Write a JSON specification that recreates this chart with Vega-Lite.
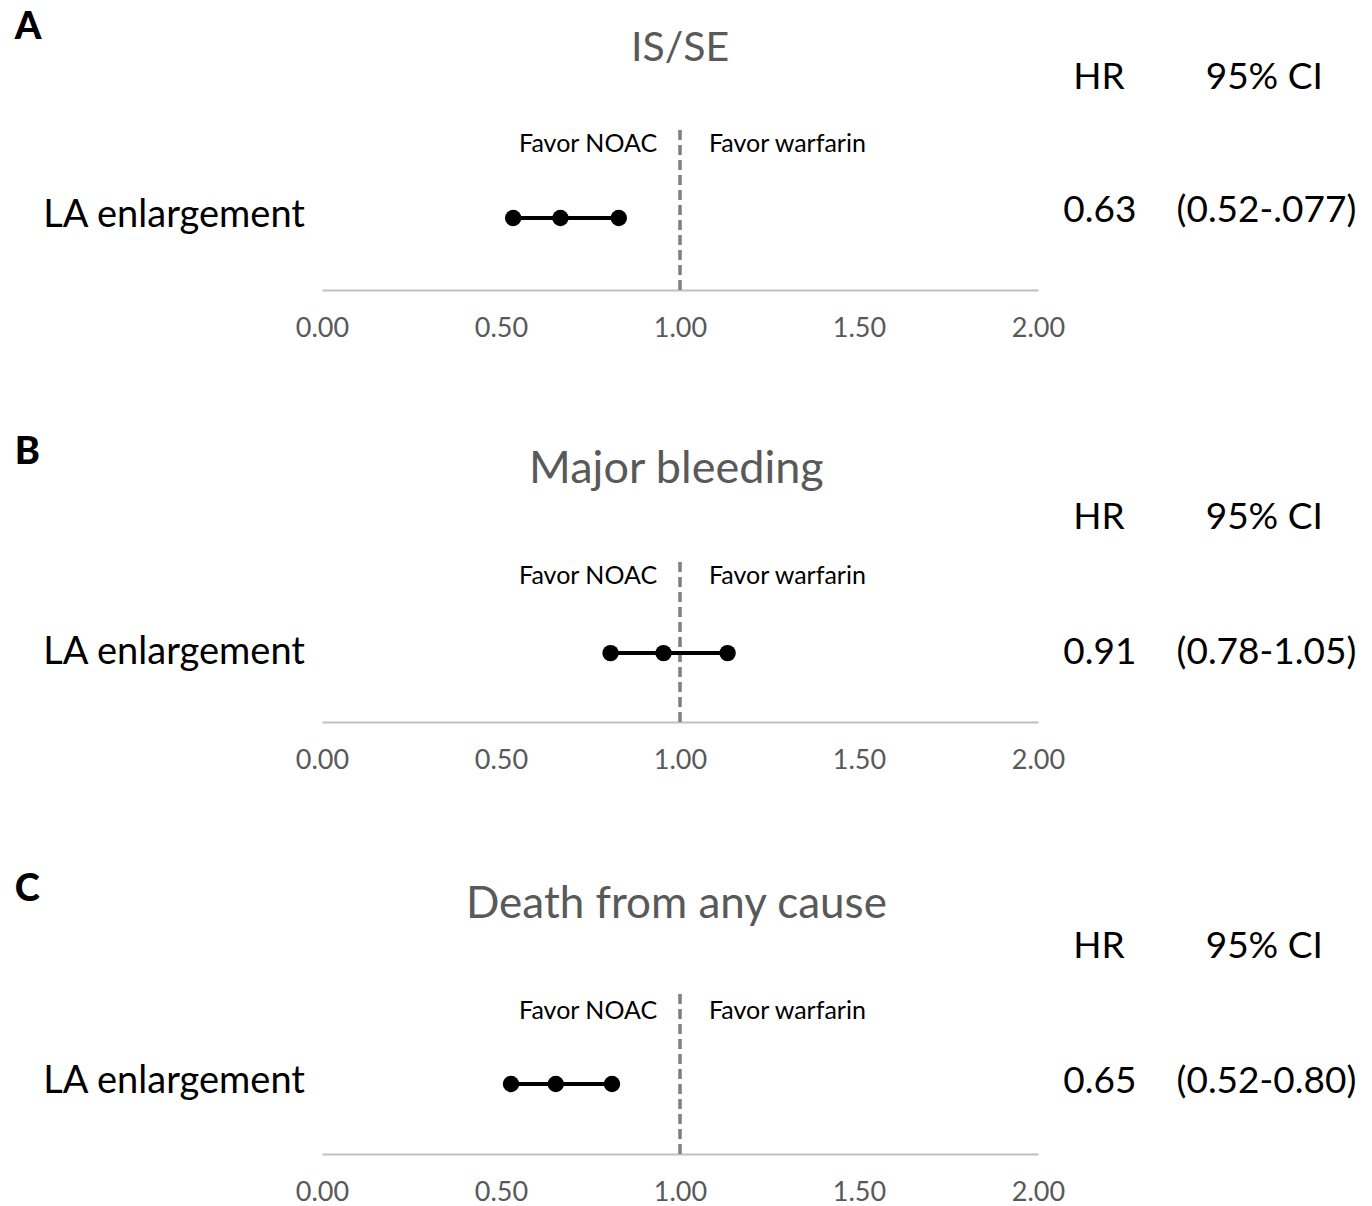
{
  "$schema": "https://vega.github.io/schema/vega-lite/v6.json",
  "padding": {"left": 14, "top": 8, "right": 0, "bottom": 0},
  "background": "white",
  "config": {
    "font": "Lato",
    "view": {"stroke": null},
    "axis": {"grid": false, "ticks": false, "tickSize": 0, "labelFont": "Lato", "labelFontSize": 27, "labelColor": "#595959", "domainColor": "#bfbfbf", "domainWidth": 2, "labelPadding": 25, "labelFlush": false},
    "axisY": {"disable": true},
    "text": {"font": "Lato"}
  },
  "datasets": {
    "rows": [
      {"panel": "A", "outcome": "IS/SE", "group": "LA enlargement", "lower": 0.534, "point": 0.666, "upper": 0.829, "hr": "0.63", "ci": "(0.52-.077)"},
      {"panel": "B", "outcome": "Major bleeding", "group": "LA enlargement", "lower": 0.806, "point": 0.954, "upper": 1.133, "hr": "0.91", "ci": "(0.78-1.05)"},
      {"panel": "C", "outcome": "Death from any cause", "group": "LA enlargement", "lower": 0.528, "point": 0.653, "upper": 0.81, "hr": "0.65", "ci": "(0.52-0.80)"}
    ]
  },
  "data": {"name": "rows"},
  "spacing": 152,
  "bounds": "flush",
  "vconcat": [
    {
      "width": 716, "height": 280,
      "transform": [{"filter": "datum.panel === 'A'"}],
      "layer": [
        {"mark": {"type": "rule", "color": "#7f7f7f", "strokeWidth": 3.5, "strokeDash": [10, 5]},
         "encoding": {"x": {"datum": 1, "type": "quantitative", "scale": {"domain": [0, 2], "nice": false}, "axis": {"format": ".2f", "values": [0, 0.5, 1, 1.5, 2], "title": null}},
                      "y": {"datum": 0, "type": "quantitative", "scale": {"domain": [0, 10]}}, "y2": {"datum": 5.79}}},
        {"mark": {"type": "rule", "color": "black", "strokeWidth": 4},
         "encoding": {"x": {"field": "lower", "type": "quantitative", "scale": {"domain": [0, 2], "nice": false}, "axis": {"format": ".2f", "values": [0, 0.5, 1, 1.5, 2], "title": null}},
                      "x2": {"field": "upper"}, "y": {"datum": 2.57, "type": "quantitative", "scale": {"domain": [0, 10]}}}},
        {"transform": [{"fold": ["lower", "point", "upper"], "as": ["k", "v"]}],
         "mark": {"type": "circle", "color": "black", "opacity": 1, "size": 270},
         "encoding": {"x": {"field": "v", "type": "quantitative", "scale": {"domain": [0, 2], "nice": false}, "axis": {"format": ".2f", "values": [0, 0.5, 1, 1.5, 2], "title": null}},
                      "y": {"datum": 2.57, "type": "quantitative", "scale": {"domain": [0, 10]}}}},
        {"mark": {"type": "text", "fontSize": 38, "align": "center", "baseline": "middle", "color": "black"},
         "encoding": {"x": {"datum": -0.413, "type": "quantitative"}, "y": {"datum": 2.66, "type": "quantitative"}, "text": {"field": "group"}}},
        {"mark": {"type": "text", "fontSize": 37, "align": "center", "baseline": "middle", "color": "black"},
         "encoding": {"x": {"datum": 2.173, "type": "quantitative"}, "y": {"datum": 2.82, "type": "quantitative"}, "text": {"field": "hr"}}},
        {"mark": {"type": "text", "fontSize": 37, "align": "center", "baseline": "middle", "color": "black"},
         "encoding": {"x": {"datum": 2.638, "type": "quantitative"}, "y": {"datum": 2.82, "type": "quantitative"}, "text": {"field": "ci"}}},
        {"mark": {"type": "text", "fontSize": 37, "align": "center", "baseline": "middle", "color": "black"},
         "encoding": {"x": {"datum": 2.17, "type": "quantitative"}, "y": {"datum": 7.58, "type": "quantitative"}, "text": {"value": "HR"}}},
        {"mark": {"type": "text", "fontSize": 37, "align": "center", "baseline": "middle", "color": "black"},
         "encoding": {"x": {"datum": 2.632, "type": "quantitative"}, "y": {"datum": 7.58, "type": "quantitative"}, "text": {"value": "95% CI"}}},
        {"mark": {"type": "text", "fontSize": 25, "align": "right", "baseline": "middle", "color": "black"},
         "encoding": {"x": {"datum": 0.936, "type": "quantitative"}, "y": {"datum": 5.2, "type": "quantitative"}, "text": {"value": "Favor NOAC"}}},
        {"mark": {"type": "text", "fontSize": 25, "align": "left", "baseline": "middle", "color": "black"},
         "encoding": {"x": {"datum": 1.081, "type": "quantitative"}, "y": {"datum": 5.2, "type": "quantitative"}, "text": {"value": "Favor warfarin"}}},
        {"mark": {"type": "text", "fontSize": 41, "align": "center", "baseline": "middle", "color": "#595959"},
         "encoding": {"x": {"datum": 1.0, "type": "quantitative"}, "y": {"datum": 8.62, "type": "quantitative"}, "text": {"field": "outcome"}}},
        {"mark": {"type": "text", "fontSize": 38, "fontWeight": 900, "align": "left", "baseline": "middle", "color": "black"},
         "encoding": {"x": {"datum": -0.858, "type": "quantitative"}, "y": {"datum": 9.36, "type": "quantitative"}, "text": {"field": "panel"}}}
      ]
    },
    {
      "width": 716, "height": 280,
      "transform": [{"filter": "datum.panel === 'B'"}],
      "layer": [
        {"mark": {"type": "rule", "color": "#7f7f7f", "strokeWidth": 3.5, "strokeDash": [10, 5]},
         "encoding": {"x": {"datum": 1, "type": "quantitative", "scale": {"domain": [0, 2], "nice": false}, "axis": {"format": ".2f", "values": [0, 0.5, 1, 1.5, 2], "title": null}},
                      "y": {"datum": 0, "type": "quantitative", "scale": {"domain": [0, 10]}}, "y2": {"datum": 5.75}}},
        {"mark": {"type": "rule", "color": "black", "strokeWidth": 4},
         "encoding": {"x": {"field": "lower", "type": "quantitative", "scale": {"domain": [0, 2], "nice": false}, "axis": {"format": ".2f", "values": [0, 0.5, 1, 1.5, 2], "title": null}},
                      "x2": {"field": "upper"}, "y": {"datum": 2.46, "type": "quantitative", "scale": {"domain": [0, 10]}}}},
        {"transform": [{"fold": ["lower", "point", "upper"], "as": ["k", "v"]}],
         "mark": {"type": "circle", "color": "black", "opacity": 1, "size": 270},
         "encoding": {"x": {"field": "v", "type": "quantitative", "scale": {"domain": [0, 2], "nice": false}, "axis": {"format": ".2f", "values": [0, 0.5, 1, 1.5, 2], "title": null}},
                      "y": {"datum": 2.46, "type": "quantitative", "scale": {"domain": [0, 10]}}}},
        {"mark": {"type": "text", "fontSize": 38, "align": "center", "baseline": "middle", "color": "black"},
         "encoding": {"x": {"datum": -0.413, "type": "quantitative"}, "y": {"datum": 2.46, "type": "quantitative"}, "text": {"field": "group"}}},
        {"mark": {"type": "text", "fontSize": 37, "align": "center", "baseline": "middle", "color": "black"},
         "encoding": {"x": {"datum": 2.173, "type": "quantitative"}, "y": {"datum": 2.46, "type": "quantitative"}, "text": {"field": "hr"}}},
        {"mark": {"type": "text", "fontSize": 37, "align": "center", "baseline": "middle", "color": "black"},
         "encoding": {"x": {"datum": 2.638, "type": "quantitative"}, "y": {"datum": 2.46, "type": "quantitative"}, "text": {"field": "ci"}}},
        {"mark": {"type": "text", "fontSize": 37, "align": "center", "baseline": "middle", "color": "black"},
         "encoding": {"x": {"datum": 2.17, "type": "quantitative"}, "y": {"datum": 7.3, "type": "quantitative"}, "text": {"value": "HR"}}},
        {"mark": {"type": "text", "fontSize": 37, "align": "center", "baseline": "middle", "color": "black"},
         "encoding": {"x": {"datum": 2.632, "type": "quantitative"}, "y": {"datum": 7.3, "type": "quantitative"}, "text": {"value": "95% CI"}}},
        {"mark": {"type": "text", "fontSize": 25, "align": "right", "baseline": "middle", "color": "black"},
         "encoding": {"x": {"datum": 0.936, "type": "quantitative"}, "y": {"datum": 5.2, "type": "quantitative"}, "text": {"value": "Favor NOAC"}}},
        {"mark": {"type": "text", "fontSize": 25, "align": "left", "baseline": "middle", "color": "black"},
         "encoding": {"x": {"datum": 1.081, "type": "quantitative"}, "y": {"datum": 5.2, "type": "quantitative"}, "text": {"value": "Favor warfarin"}}},
        {"mark": {"type": "text", "fontSize": 45, "align": "center", "baseline": "middle", "color": "#595959"},
         "encoding": {"x": {"datum": 0.99, "type": "quantitative"}, "y": {"datum": 9.02, "type": "quantitative"}, "text": {"field": "outcome"}}},
        {"mark": {"type": "text", "fontSize": 38, "fontWeight": 900, "align": "left", "baseline": "middle", "color": "black"},
         "encoding": {"x": {"datum": -0.858, "type": "quantitative"}, "y": {"datum": 9.6, "type": "quantitative"}, "text": {"field": "panel"}}}
      ]
    },
    {
      "width": 716, "height": 280,
      "transform": [{"filter": "datum.panel === 'C'"}],
      "layer": [
        {"mark": {"type": "rule", "color": "#7f7f7f", "strokeWidth": 3.5, "strokeDash": [10, 5]},
         "encoding": {"x": {"datum": 1, "type": "quantitative", "scale": {"domain": [0, 2], "nice": false}, "axis": {"format": ".2f", "values": [0, 0.5, 1, 1.5, 2], "title": null}},
                      "y": {"datum": 0, "type": "quantitative", "scale": {"domain": [0, 10]}}, "y2": {"datum": 5.71}}},
        {"mark": {"type": "rule", "color": "black", "strokeWidth": 4},
         "encoding": {"x": {"field": "lower", "type": "quantitative", "scale": {"domain": [0, 2], "nice": false}, "axis": {"format": ".2f", "values": [0, 0.5, 1, 1.5, 2], "title": null}},
                      "x2": {"field": "upper"}, "y": {"datum": 2.5, "type": "quantitative", "scale": {"domain": [0, 10]}}}},
        {"transform": [{"fold": ["lower", "point", "upper"], "as": ["k", "v"]}],
         "mark": {"type": "circle", "color": "black", "opacity": 1, "size": 270},
         "encoding": {"x": {"field": "v", "type": "quantitative", "scale": {"domain": [0, 2], "nice": false}, "axis": {"format": ".2f", "values": [0, 0.5, 1, 1.5, 2], "title": null}},
                      "y": {"datum": 2.5, "type": "quantitative", "scale": {"domain": [0, 10]}}}},
        {"mark": {"type": "text", "fontSize": 38, "align": "center", "baseline": "middle", "color": "black"},
         "encoding": {"x": {"datum": -0.413, "type": "quantitative"}, "y": {"datum": 2.58, "type": "quantitative"}, "text": {"field": "group"}}},
        {"mark": {"type": "text", "fontSize": 37, "align": "center", "baseline": "middle", "color": "black"},
         "encoding": {"x": {"datum": 2.173, "type": "quantitative"}, "y": {"datum": 2.58, "type": "quantitative"}, "text": {"field": "hr"}}},
        {"mark": {"type": "text", "fontSize": 37, "align": "center", "baseline": "middle", "color": "black"},
         "encoding": {"x": {"datum": 2.638, "type": "quantitative"}, "y": {"datum": 2.58, "type": "quantitative"}, "text": {"field": "ci"}}},
        {"mark": {"type": "text", "fontSize": 37, "align": "center", "baseline": "middle", "color": "black"},
         "encoding": {"x": {"datum": 2.17, "type": "quantitative"}, "y": {"datum": 7.4, "type": "quantitative"}, "text": {"value": "HR"}}},
        {"mark": {"type": "text", "fontSize": 37, "align": "center", "baseline": "middle", "color": "black"},
         "encoding": {"x": {"datum": 2.632, "type": "quantitative"}, "y": {"datum": 7.4, "type": "quantitative"}, "text": {"value": "95% CI"}}},
        {"mark": {"type": "text", "fontSize": 25, "align": "right", "baseline": "middle", "color": "black"},
         "encoding": {"x": {"datum": 0.936, "type": "quantitative"}, "y": {"datum": 5.1, "type": "quantitative"}, "text": {"value": "Favor NOAC"}}},
        {"mark": {"type": "text", "fontSize": 25, "align": "left", "baseline": "middle", "color": "black"},
         "encoding": {"x": {"datum": 1.081, "type": "quantitative"}, "y": {"datum": 5.1, "type": "quantitative"}, "text": {"value": "Favor warfarin"}}},
        {"mark": {"type": "text", "fontSize": 44, "align": "center", "baseline": "middle", "color": "#595959"},
         "encoding": {"x": {"datum": 0.99, "type": "quantitative"}, "y": {"datum": 8.9, "type": "quantitative"}, "text": {"field": "outcome"}}},
        {"mark": {"type": "text", "fontSize": 38, "fontWeight": 900, "align": "left", "baseline": "middle", "color": "black"},
         "encoding": {"x": {"datum": -0.858, "type": "quantitative"}, "y": {"datum": 9.42, "type": "quantitative"}, "text": {"field": "panel"}}}
      ]
    }
  ]
}
